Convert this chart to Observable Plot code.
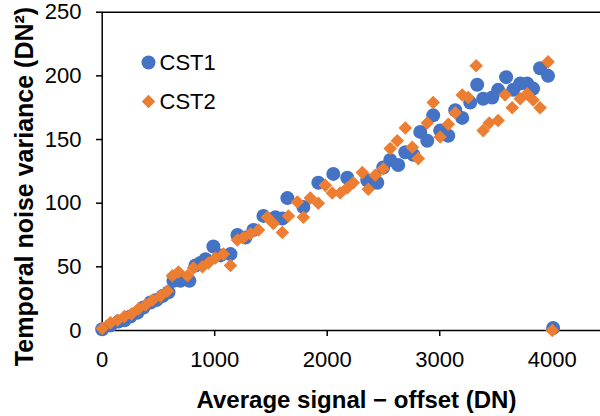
<!DOCTYPE html>
<html><head><meta charset="utf-8">
<script src="https://cdn.jsdelivr.net/npm/d3@7"></script>
<script src="https://cdn.jsdelivr.net/npm/@observablehq/plot@0.6"></script>
<style>html,body{margin:0;padding:0;background:#fff}svg{display:block}</style>
</head><body><div id="chart"></div>
<script>
const seriesNames = ["CST1", "CST2"];
const cst1X = [0,74,145,198,251,314,367,429,482,536,589,633,695,775,829,873,918,988,1051,1140,1202,1273,1344,1433,1540,1601,1646,1788,1921,2054,2178,2356,2445,2498,2560,2631,2694,2765,2827,2889,2942,3004,3076,3138,3200,3271,3333,3386,3466,3519,3590,3653,3715,3777,3830,3892,3963,4008];
const cst1Y = [1,4,7,8,11,14,18,22,24,27,30,39,39,39,51,53,56,66,59,60,75,73,79,90,89,88,104,97,116,123,120,118,116,128,134,130,140,138,156,149,169,157,153,173,167,179,193,182,183,189,199,189,194,194,190,206,200,2];
const cst2X = [0,74,136,198,261,323,385,447,518,580,624,678,758,811,891,944,1006,1077,1140,1202,1256,1318,1389,1468,1521,1601,1655,1735,1788,1850,1921,1983,2045,2116,2178,2232,2312,2365,2427,2498,2560,2623,2694,2756,2809,2889,2942,3004,3076,3138,3200,3253,3324,3386,3440,3519,3581,3644,3715,3777,3830,3892,3963,4000];
const cst2Y = [1.5,6,8,11,13,17,20,24,27,31,43,46,43,49,50,53,57,60,51,71,73,76,79,89,84,77,90,101,89,104,100,114,108,108,112,116,124,111,122,127,143,149,159,144,135,163,179,152,162,171,185,183,208,157,163,165,185,175,182,186,181,175,211,0];
const xTicks = [0,1000,2000,3000,4000];
const yTicks = [0,50,100,150,200,250];
const xTitle = "Average signal \u2212 offset (DN)";
const yTitle = "Temporal noise variance (DN\u00B2)";

const data1 = cst1X.map((x, i) => ({x, y: cst1Y[i]}));
const data2 = cst2X.map((x, i) => ({x, y: cst2Y[i]}));
const blue = "#4472C4", orange = "#ED7D31";
const font = "'Liberation Sans', Arial, sans-serif";

const chart = Plot.plot({
  width: 600, height: 416,
  marginLeft: 102, marginRight: 0, marginTop: 12, marginBottom: 86,
  x: {domain: [0, 4500], range: [101.7, 608]},
  y: {domain: [0, 250], range: [330, 11.7]},
  style: {fontFamily: font, fontSize: "22px", color: "#000", background: "#fff", overflow: "hidden"},
  marks: [
    Plot.ruleY([250], {stroke: "#000", strokeWidth: 1.5}),
    Plot.axisX({ticks: xTicks, tickSize: 6, tickPadding: 15, tickFormat: d3.format("d"), label: null, fontSize: 22, strokeWidth: 1.5, fill: "#000"}),
    Plot.axisY({ticks: yTicks, tickSize: 6, tickPadding: 15, label: null, fontSize: 22, strokeWidth: 1.5, fill: "#000"}),
    Plot.ruleX([0], {stroke: "#000", strokeWidth: 1.5}),
    Plot.ruleY([0], {stroke: "#000", strokeWidth: 1.5}),
    Plot.dot(data1, {x: "x", y: "y", r: 7, fill: blue, symbol: "circle"}),
    Plot.dot(data2, {x: "x", y: "y", r: 6.1, fill: orange, symbol: "diamond2"}),
    Plot.dot([seriesNames[0]], {frameAnchor: "top-left", dx: 46, dy: 50, r: 7, fill: blue, symbol: "circle"}),
    Plot.dot([seriesNames[1]], {frameAnchor: "top-left", dx: 46, dy: 89, r: 6.1, fill: orange, symbol: "diamond2"}),
    Plot.text([seriesNames[0]], {text: d => d, frameAnchor: "top-left", dx: 57, dy: 50, textAnchor: "start", lineAnchor: "middle", fontSize: 22, fill: "#000"}),
    Plot.text([seriesNames[1]], {text: d => d, frameAnchor: "top-left", dx: 57, dy: 89, textAnchor: "start", lineAnchor: "middle", fontSize: 22, fill: "#000"}),
    Plot.text([xTitle], {text: d => d, frameAnchor: "bottom", dx: 5, dy: 70, textAnchor: "middle", lineAnchor: "middle", fontSize: 24, fontWeight: "bold", fill: "#000"}),
    Plot.text([yTitle], {text: d => d, frameAnchor: "left", dx: -78, dy: 15, rotate: -90, textAnchor: "middle", lineAnchor: "middle", fontSize: 25, fontWeight: "bold", fill: "#000"})
  ]
});
document.getElementById("chart").appendChild(chart);
</script>
</body></html>
